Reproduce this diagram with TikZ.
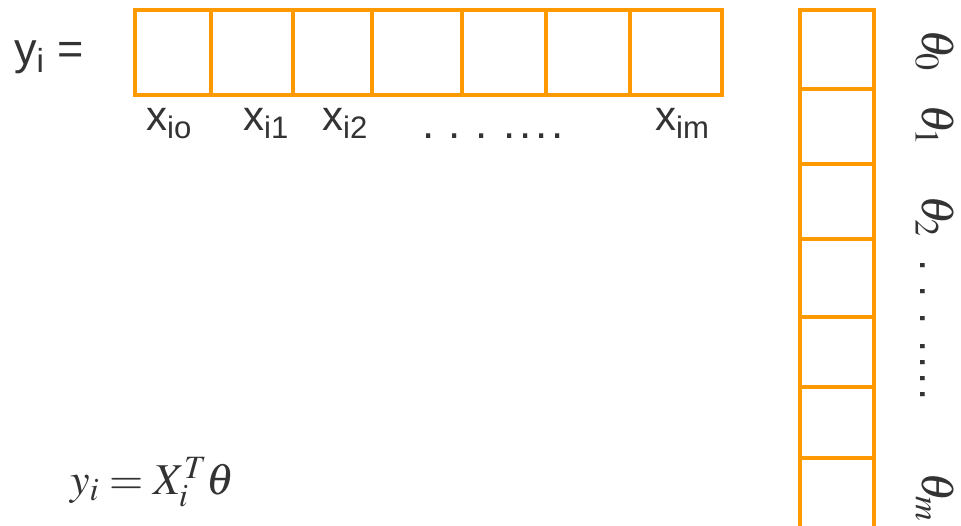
\documentclass[tikz,border=0pt]{standalone}
\usepackage{mathptmx}
\usepackage{fontspec}
\newfontfamily\arialfont{Liberation Sans}
\usepackage{tikz}
\usetikzlibrary{positioning}
\definecolor{CellOrange}{RGB}{255,153,0}
\definecolor{InkGray}{RGB}{51,51,51}
\newcommand\gapdots{.\hspace{14.5pt}.\hspace{14.5pt}.\hspace{15.5pt}.\kern3.8pt.\kern3.8pt.\kern3.8pt.}

\begin{document}
\begin{tikzpicture}[x=1pt,y=-1pt,every node/.style={text=InkGray,inner sep=0pt}]
\tikzset{cell/.style={draw=CellOrange,line width=4.5pt,inner sep=0pt,outer sep=0pt},
  lbl/.style={font=\arialfont\fontsize{42}{48}\selectfont,anchor=base west},
  dots/.style={font=\arialfont\fontsize{44}{50}\selectfont,anchor=base west},
  theta/.style={font=\fontsize{46}{50}\selectfont,rotate=-90}}
\clip (0,0) rectangle (961,525);
% row X_i
\foreach \a/\b [count=\i from 0] in {135/211,211/293,293/372,372/462,462/546,546/630,630/722}
  \node[cell,minimum width=\b-\a,minimum height=85] (x\i) at ({(\a+\b)/2},52.5) {};
% column theta
\foreach \c/\d [count=\i from 0] in {10/89,89/164,164/239,239/317,317/387,387/458,458/540}
  \node[cell,minimum width=74,minimum height=\d-\c] (t\i) at (837,{(\c+\d)/2}) {};
\node[lbl,font=\arialfont\fontsize{45}{50}\selectfont] (yl) at (14,64) {y\textsubscript{i} =};
\node[lbl] (lx0) at (146,130) {x\textsubscript{io}};
\node[lbl] (lx1) at (243,130) {x\textsubscript{i1}};
\node[lbl] (lx2) at (322,130) {x\textsubscript{i2}};
\node[dots] (hdots) at (422,138) {\gapdots};
\node[lbl] (lxm) at (655,130) {x\textsubscript{im}};
\node[theta] (th0) at (935,50) {$\theta_0$};
\node[theta] (th1) at (935,125) {$\theta_1$};
\node[theta] (th2) at (935,216) {$\theta_2$};
\node[dots,rotate=-90] (vdots) at (920,259) {\gapdots};
\node[theta] (thm) at (935,497) {$\theta_m$};
\node[anchor=base west,font=\fontsize{44}{50}\selectfont] (eq) at (70,494) {$y_i = X_i^T\theta$};
\end{tikzpicture}
\end{document}
